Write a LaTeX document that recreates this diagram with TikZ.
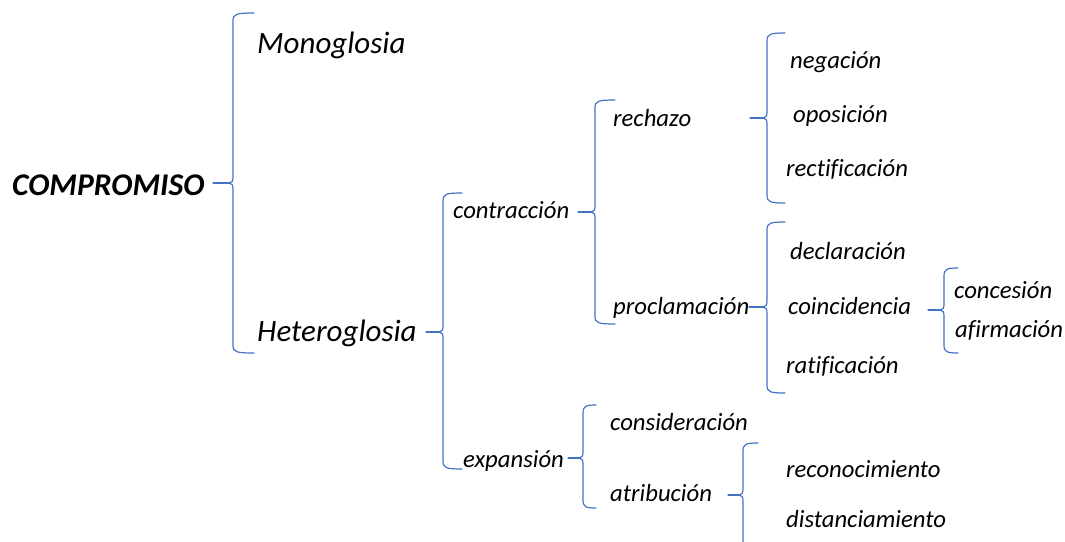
\documentclass[tikz,border=0pt]{standalone}
\usepackage{fontspec}
\setmainfont{Carlito}[Ligatures=NoCommon]
\definecolor{brblue}{RGB}{68,114,196}
\newcommand\mybrace[7]{% name, x, top, mid, bottom, hook end x, stem start x
  \coordinate (#1tip) at (#2-4,#4);
  \coordinate (#1stem) at (#7,#4);
  \draw[br] (#6,#3) .. controls (#2+3,#3) and (#2,#3+1) .. (#2,#3+8) -- (#2,#4-6) .. controls (#2,#4-2) and (#2-1,#4) .. (#1tip);
  \draw[br] (#1tip) .. controls (#2-1,#4) and (#2,#4+2) .. (#2,#4+6) -- (#2,#5-8) .. controls (#2,#5-1) and (#2+3,#5) .. (#6,#5);
  \draw[br] (#1stem) -- (#1tip);
}
\begin{document}
\begin{tikzpicture}[x=1pt,y=-1pt,
  br/.style={draw=brblue,line width=1.2pt,line cap=round},
  big/.style={inner sep=0pt,anchor=base west,font=\itshape\fontsize{31}{36}\selectfont},
  bigb/.style={inner sep=0pt,anchor=base west,font=\bfseries\itshape\fontsize{31.6}{36}\selectfont},
  sm/.style={inner sep=0pt,anchor=base west,font=\itshape\fontsize{24.7}{28}\selectfont}]
\useasboundingbox (0,0) rectangle (1065,541);
% texts
\node[bigb] (comp) at (12,195) {COMPROMISO};
\node[big] (mono) at (257,53) {Monoglosia};
\node[big] (hetero) at (257,341) {Heteroglosia};
\node[sm] (contr) at (453,218) {contracción};
\node[sm] (expan) at (463,467) {expansión};
\node[sm] (rech) at (613,126) {rechazo};
\node[sm] (procl) at (613,314) {proclamación};
\node[sm] (neg) at (790,68) {negación};
\node[sm] (opos) at (793,122) {oposición};
\node[sm] (rect) at (786,176) {rectificación};
\node[sm] (decl) at (790,259) {declaración};
\node[sm] (coinc) at (788,314) {coincidencia};
\node[sm] (ratif) at (786,373) {ratificación};
\node[sm] (conc) at (954,298) {concesión};
\node[sm] (afirm) at (955,337) {afirmación};
\node[sm] (consid) at (610,430) {consideración};
\node[sm] (atrib) at (610,501) {atribución};
\node[sm] (recon) at (786,477) {reconocimiento};
\node[sm] (dist) at (786,527) {distanciamiento};
% braces
\mybrace{bA}{233}{13}{183}{353}{254}{213}
\mybrace{bB}{443}{193}{332}{469}{462}{426}
\mybrace{bC}{595}{100}{212}{324}{615}{578}
\mybrace{bD}{767}{33}{118}{203}{785}{750}
\mybrace{bE}{767}{222}{307}{393}{785}{749}
\mybrace{bF}{944}{268}{310}{353}{958}{928}
\mybrace{bG}{583}{405}{458}{508}{596}{568}
\mybrace{bH}{743}{443}{495}{570}{758}{728}
\end{tikzpicture}
\end{document}
